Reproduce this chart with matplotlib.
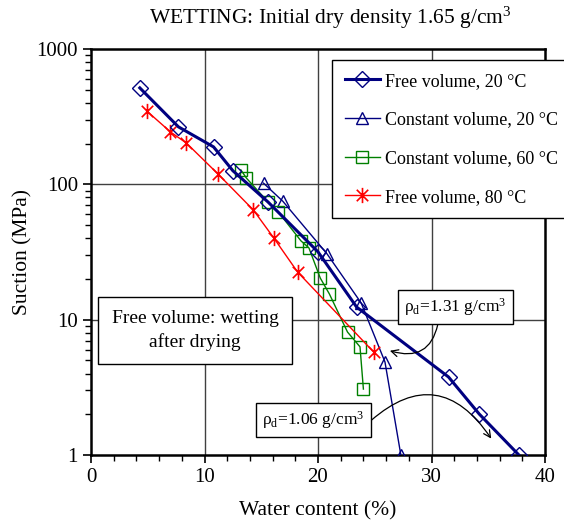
import numpy as np
import matplotlib
matplotlib.use("Agg")
import matplotlib.pyplot as plt
from matplotlib.path import Path
from matplotlib.ticker import FixedLocator, NullFormatter

plt.rcParams['font.family'] = ['Liberation Serif', 'DejaVu Serif']
plt.rcParams['mathtext.fontset'] = 'custom'
plt.rcParams['mathtext.rm'] = 'Liberation Serif'
plt.rcParams['mathtext.it'] = 'Liberation Serif:italic'

# ---- data ----
fv20_w = [4.3, 7.7, 10.8, 12.5, 15.6, 20.0, 23.4, 31.5, 34.2, 37.7]
fv20_s = [516, 266, 189, 126, 74, 31.7, 12.4, 3.77, 2.01, 1.0]

cv20_w = [15.2, 16.9, 20.8, 23.8, 25.9, 27.3]
cv20_s = [102, 75, 30.6, 13.3, 4.87, 1.0]

cv60_w = [13.2, 13.7, 15.6, 16.5, 18.5, 19.2, 20.2, 21.0, 22.6, 23.7, 24.0]
cv60_s = [128, 111, 74, 62.5, 38.2, 33.9, 20.3, 15.5, 8.1, 6.3, 3.07]

fv80_w = [4.9, 7.0, 8.4, 11.2, 14.3, 16.1, 18.2, 24.9]
fv80_s = [349, 244, 202, 119, 64.7, 40.2, 22.5, 5.77]

labels = ['Free volume, 20 °C', 'Constant volume, 20 °C',
          'Constant volume, 60 °C', 'Free volume, 80 °C']

# asterisk marker: vertical bar plus an X
star = Path([(0, -1), (0, 1), (-0.75, -0.75), (0.75, 0.75), (-0.75, 0.75), (0.75, -0.75)],
            [Path.MOVETO, Path.LINETO, Path.MOVETO, Path.LINETO, Path.MOVETO, Path.LINETO])

fig = plt.figure(figsize=(5.64, 5.26), dpi=100)
ax = fig.add_axes([91 / 564, 71 / 526, 454 / 564, 406 / 526])

navy = '#000080'
ax.plot(fv20_w, fv20_s, color=navy, lw=2.2, marker='D', ms=8, mfc='none', mew=1.0,
        label=labels[0], zorder=5)
ax.plot(cv20_w, cv20_s, color=navy, lw=1.0, marker='^', ms=9, mfc='none', mew=1.0,
        label=labels[1], zorder=4)
ax.plot(cv60_w, cv60_s, color='#008000', lw=1.0, marker='s', ms=8.5, mfc='none', mew=1.0,
        label=labels[2], zorder=4)
ax.plot(fv80_w, fv80_s, color='#FF0000', lw=1.0, marker=star, ms=11, mew=1.2,
        label=labels[3], zorder=4)

ax.set_yscale('log')
ax.set_xlim(0, 40)
ax.set_ylim(1, 1000)

ax.set_xticks([0, 10, 20, 30, 40])
ax.xaxis.set_minor_locator(FixedLocator(np.arange(0, 41, 2)))
ax.set_yticks([1, 10, 100, 1000])
ax.set_yticklabels(['1', '10', '100', '1000'])
ax.yaxis.set_minor_formatter(NullFormatter())

ax.tick_params(axis='both', which='major', direction='out', length=6, width=1.2,
               labelsize=15, top=False, right=False)
ax.tick_params(axis='both', which='minor', direction='out', length=4, width=1.0,
               top=False, right=False)
for sp in ax.spines.values():
    sp.set_linewidth(1.8)

# grid only on the major interior lines
for gx in [10, 20, 30]:
    ax.axvline(gx, color='0.25', lw=1.0, zorder=1)
for gy in [10, 100]:
    ax.axhline(gy, color='0.25', lw=1.0, zorder=1)

ax.set_xlabel('Water content (%)', fontsize=15.5, labelpad=10)
ax.set_ylabel('Suction (MPa)', fontsize=15.5, labelpad=3)
fig.text(330 / 564, 1 - 18 / 526, 'WETTING: Initial dry density 1.65 g/cm$^3$',
         ha='center', va='center', fontsize=15.5)

leg = fig.legend(loc='upper left', bbox_to_anchor=(332 / 564, 1 - 60 / 526),
                 borderaxespad=0, fontsize=13, numpoints=1, handlelength=1.95,
                 labelspacing=1.2, fancybox=False, framealpha=1, edgecolor='black',
                 borderpad=0.7, handletextpad=0.3)
leg.get_frame().set_linewidth(1.0)

ax.text(9.16, 8.32, 'Free volume: wetting\nafter drying', ha='center', va='center',
        fontsize=14, linespacing=1.4, zorder=6,
        bbox=dict(boxstyle='square,pad=0.7', fc='white', ec='black', lw=1.0))

box_kw = dict(boxstyle='square,pad=0.35', fc='white', ec='black', lw=1.0)
ax.annotate('ρ$_\\mathrm{d}$=1.31 g/cm$^3$', xy=(26.1, 5.98), xytext=(32.1, 12.4),
            ha='center', va='center', fontsize=12.5, bbox=box_kw, zorder=6,
            arrowprops=dict(arrowstyle='->', color='black', lw=0.9, relpos=(0.34, 0),
                            connectionstyle='arc3,rad=-0.6', shrinkA=0, shrinkB=2))
ax.annotate('ρ$_\\mathrm{d}$=1.06 g/cm$^3$', xy=(35.4, 1.27), xytext=(19.6, 1.82),
            ha='center', va='center', fontsize=12.5, bbox=box_kw, zorder=6,
            arrowprops=dict(arrowstyle='->', color='black', lw=0.9, relpos=(1, 0.2),
                            connectionstyle='arc3,rad=-0.6', shrinkA=0, shrinkB=2))

fig.savefig('out.png', dpi=100)
